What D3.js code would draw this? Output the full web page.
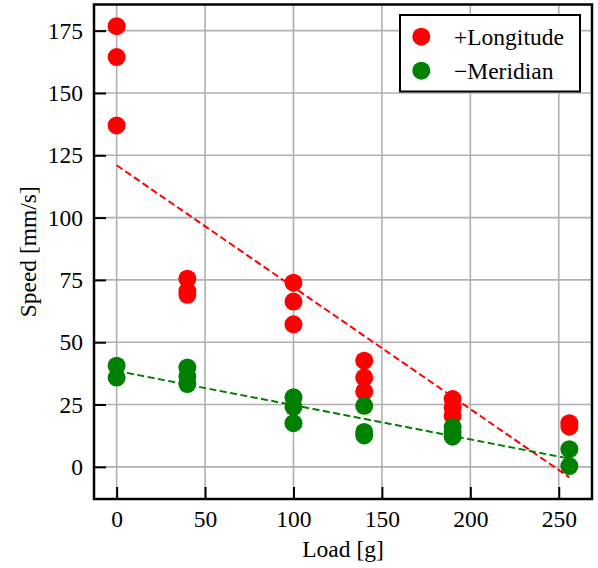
<!DOCTYPE html>
<html>
<head>
<meta charset="utf-8">
<script src="https://cdn.jsdelivr.net/npm/d3@7"></script>
<style>
  body { margin: 0; background: #fff; }
  svg text { font-family: 'Liberation Serif', 'Times New Roman', Times, 'DejaVu Serif', serif; }
</style>
</head>
<body>
<div class="chart"></div>
<script>
// Speed vs load, two directions, with linear fits

var loadLong = [0, 0, 0, 40, 40, 40, 100, 100, 100, 140, 140, 140, 190, 190, 190, 256, 256];
var speedLong = [176.8, 164.4, 137.0, 75.5, 70.5, 69.0, 73.9, 66.3, 57.2, 42.6, 35.8, 30.2, 27.2, 23.8, 20.4, 17.5, 16.1];

var loadMer = [0, 0, 40, 40, 40, 100, 100, 100, 140, 140, 140, 190, 190, 190, 256, 256];
var speedMer = [40.6, 35.8, 39.9, 36.2, 33.2, 27.9, 24.1, 17.5, 24.5, 14.0, 12.6, 15.9, 14.0, 12.1, 7.1, 0.3];

// fitted lines, read at the two ends
var fitLoad = [0, 256];
var fitLong = [121.0, -4.2];
var fitMer = [38.5, 3.3];

var xTicks = [0, 50, 100, 150, 200, 250];
var yTicks = [0, 25, 50, 75, 100, 125, 150, 175];

var svgWidth = 598;
var svgHeight = 568;
var serif = "'Liberation Serif', 'Times New Roman', Times, 'DejaVu Serif', serif";
var fontSize = 23.5;

var margin = { top: 4.5, right: 6, bottom: 69, left: 94 };
var width = svgWidth - margin.left - margin.right;
var height = svgHeight - margin.top - margin.bottom;

var svg = d3.select(".chart")
    .append("svg")
    .attr("width", svgWidth)
    .attr("height", svgHeight)
    .attr("font-family", serif);

var chartGroup = svg.append("g")
    .attr("transform", `translate(${margin.left}, ${margin.top})`);

var xLinearScale = d3.scaleLinear()
    .domain([-12.8, 268.8])
    .range([0, width]);

var yLinearScale = d3.scaleLinear()
    .domain([-12.9, 185.5])
    .range([height, 0]);

// grid
chartGroup.append("g")
    .selectAll("line")
    .data(xTicks)
    .join("line")
    .attr("x1", d => xLinearScale(d))
    .attr("x2", d => xLinearScale(d))
    .attr("y1", 0)
    .attr("y2", height)
    .attr("stroke", "#b0b0b0")
    .attr("stroke-width", 1.6);

chartGroup.append("g")
    .selectAll("line")
    .data(yTicks)
    .join("line")
    .attr("y1", d => yLinearScale(d))
    .attr("y2", d => yLinearScale(d))
    .attr("x1", 0)
    .attr("x2", width)
    .attr("stroke", "#b0b0b0")
    .attr("stroke-width", 1.6);

// axes, ticks pointing in
var bottomAxis = d3.axisBottom(xLinearScale)
    .tickValues(xTicks)
    .tickSize(-12)
    .tickPadding(11.3);
var leftAxis = d3.axisLeft(yLinearScale)
    .tickValues(yTicks)
    .tickSize(-12)
    .tickPadding(11);

var xAxisG = chartGroup.append("g")
    .attr("transform", `translate(0, ${height})`)
    .call(bottomAxis);
var yAxisG = chartGroup.append("g")
    .call(leftAxis);

[xAxisG, yAxisG].forEach(function(g) {
    g.attr("font-family", serif).attr("font-size", fontSize);
    g.select(".domain").remove();
    g.selectAll(".tick line").attr("stroke", "#000").attr("stroke-width", 2);
    g.selectAll(".tick text").attr("fill", "#000");
});

// points
chartGroup.append("g")
    .selectAll("circle")
    .data(loadLong)
    .join("circle")
    .attr("cx", d => xLinearScale(d))
    .attr("cy", (d, i) => yLinearScale(speedLong[i]))
    .attr("r", 9)
    .attr("fill", "red");

chartGroup.append("g")
    .selectAll("circle")
    .data(loadMer)
    .join("circle")
    .attr("cx", d => xLinearScale(d))
    .attr("cy", (d, i) => yLinearScale(speedMer[i]))
    .attr("r", 9)
    .attr("fill", "green");

// fit lines
var line = d3.line()
    .x(d => xLinearScale(d[0]))
    .y(d => yLinearScale(d[1]));

chartGroup.append("path")
    .datum(fitLoad.map((x, i) => [x, fitLong[i]]))
    .attr("d", line)
    .attr("fill", "none")
    .attr("stroke", "red")
    .attr("stroke-width", 2)
    .attr("stroke-dasharray", "7,3.5");

chartGroup.append("path")
    .datum(fitLoad.map((x, i) => [x, fitMer[i]]))
    .attr("d", line)
    .attr("fill", "none")
    .attr("stroke", "green")
    .attr("stroke-width", 2)
    .attr("stroke-dasharray", "7,3.5");

// frame
chartGroup.append("rect")
    .attr("x", 0)
    .attr("y", 0)
    .attr("width", width)
    .attr("height", height)
    .attr("fill", "none")
    .attr("stroke", "#000")
    .attr("stroke-width", 2.5);

// axis labels
chartGroup.append("text")
    .attr("transform", "rotate(-90)")
    .attr("x", 0 - height / 2)
    .attr("y", 36 - margin.left)
    .attr("text-anchor", "middle")
    .attr("font-size", fontSize)
    .text("Speed [mm/s]");

chartGroup.append("text")
    .attr("x", width / 2)
    .attr("y", 557 - margin.top)
    .attr("text-anchor", "middle")
    .attr("font-size", fontSize)
    .text("Load [g]");

// legend
var legendItems = ["+Longitude", "\u2212Meridian"];
var legendColors = ["red", "green"];

var legend = svg.append("g");
legend.append("rect")
    .attr("x", 400)
    .attr("y", 15)
    .attr("width", 180)
    .attr("height", 76.5)
    .attr("fill", "#fff")
    .attr("stroke", "#000")
    .attr("stroke-width", 2);

var entries = legend.selectAll("g.entry")
    .data(legendItems)
    .join("g")
    .attr("class", "entry")
    .attr("transform", (d, i) => `translate(0, ${36.7 + i * 34})`);

entries.append("circle")
    .attr("cx", 421.3)
    .attr("cy", 0)
    .attr("r", 9)
    .attr("fill", (d, i) => legendColors[i]);

entries.append("text")
    .attr("x", 454)
    .attr("y", 7.8)
    .attr("font-size", fontSize)
    .text(d => d);
</script>
</body>
</html>
